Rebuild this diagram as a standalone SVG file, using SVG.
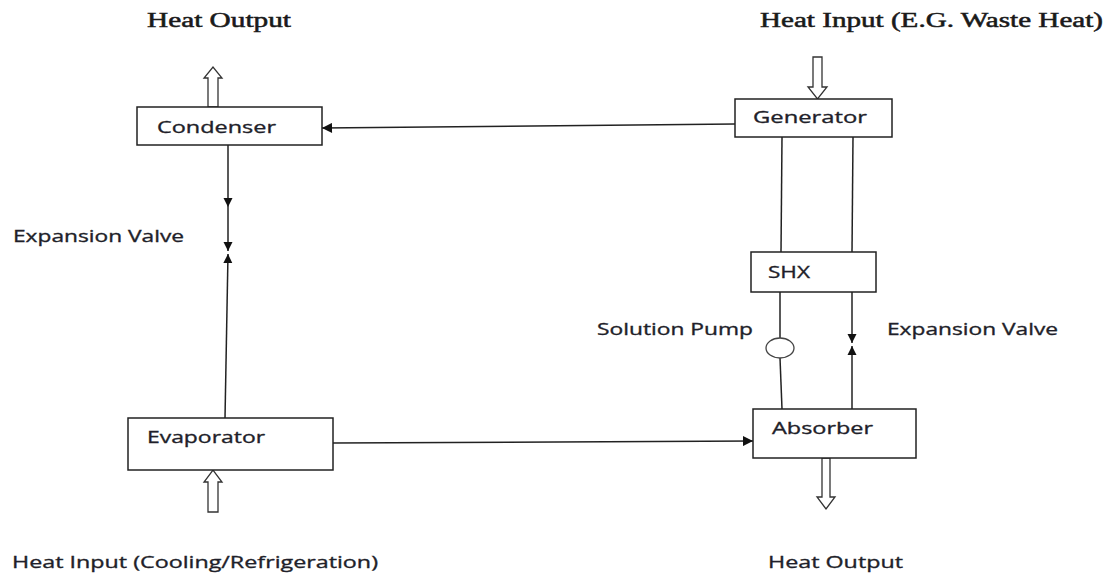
<svg xmlns="http://www.w3.org/2000/svg" width="1111" height="575" viewBox="0 0 1111 575">
<style>
.box{fill:#fff;stroke:#222;stroke-width:1.5}
.ln{fill:none;stroke:#222;stroke-width:1.5}
.hol{fill:#fff;stroke:#333;stroke-width:1.3;stroke-linejoin:miter}
.sans{font-family:"Open Sans","Noto Sans",sans-serif;font-size:17px;fill:#1f1f2a;stroke:#1f1f2a;stroke-width:0.35}
.serif{font-family:"Liberation Serif","DejaVu Serif",serif;font-size:20px;fill:#1a1a1a;stroke:#1a1a1a;stroke-width:0.5}
</style>
<defs>
<marker id="ah" viewBox="0 0 10 10" refX="10" refY="5" markerWidth="11" markerHeight="10" markerUnits="userSpaceOnUse" orient="auto">
<path d="M0,0 L10,5 L0,10 z" fill="#111"/>
</marker>
<marker id="ahv" viewBox="0 0 10 10" refX="10" refY="5" markerWidth="9" markerHeight="12" markerUnits="userSpaceOnUse" orient="auto">
<path d="M0,0 L10,5 L0,10 z" fill="#111"/>
</marker>
</defs>
<g id="labels">
<text class="serif" x="147" y="27" textLength="144" lengthAdjust="spacingAndGlyphs">Heat Output</text>
<text class="serif" x="760" y="27" textLength="343" lengthAdjust="spacingAndGlyphs">Heat Input (E.G. Waste Heat)</text>
<text class="sans" x="13" y="242" textLength="171" lengthAdjust="spacingAndGlyphs">Expansion Valve</text>
<text class="sans" x="597" y="335" textLength="156" lengthAdjust="spacingAndGlyphs">Solution Pump</text>
<text class="sans" x="887" y="335" textLength="171" lengthAdjust="spacingAndGlyphs">Expansion Valve</text>
<text class="sans" x="768" y="568" textLength="135" lengthAdjust="spacingAndGlyphs">Heat Output</text>
<text class="sans" x="12" y="568" textLength="366" lengthAdjust="spacingAndGlyphs">Heat Input (Cooling/Refrigeration)</text>
</g>
<g id="connectors">
<path class="ln" d="M735,124 L322,128" marker-end="url(#ah)"/>
<path class="ln" d="M228,145 L228,207 L228,251" marker-mid="url(#ahv)" marker-end="url(#ahv)"/>
<path class="ln" d="M225,418 L228,254" marker-end="url(#ahv)"/>
<path class="ln" d="M333,443 L753,441" marker-end="url(#ah)"/>
<path class="ln" d="M782,137 L781,252"/>
<path class="ln" d="M853,137 L852,252"/>
<path class="ln" d="M780,292 L780,338"/>
<path class="ln" d="M780,358 L782,409"/>
<path class="ln" d="M852,292 L852,343" marker-end="url(#ahv)"/>
<path class="ln" d="M852,409 L852,346" marker-end="url(#ahv)"/>
<polygon class="hol" points="208,107 208,78 204,78 213,67 222,78 218,78 218,107"/>
<polygon class="hol" points="813,57 822,57 822,87 827,87 817.5,99 808,87 813,87"/>
<polygon class="hol" points="208,512 208,482 204,482 213,470 222,482 218,482 218,512"/>
<polygon class="hol" points="822,458 830,458 830,497 835,497 826,509 817,497 822,497"/>
</g>
<g id="condenser">
<rect class="box" x="137" y="107" width="185" height="38"/>
<text class="sans" x="157" y="133" textLength="119" lengthAdjust="spacingAndGlyphs">Condenser</text>
</g>
<g id="generator">
<rect class="box" x="735" y="99" width="157" height="38"/>
<text class="sans" x="753" y="123" textLength="114" lengthAdjust="spacingAndGlyphs">Generator</text>
</g>
<g id="shx">
<rect class="box" x="751" y="252" width="125" height="40"/>
<text class="sans" x="768" y="278" textLength="42" lengthAdjust="spacingAndGlyphs">SHX</text>
</g>
<g id="pump">
<ellipse cx="780" cy="348" rx="14" ry="10" fill="#fff" stroke="#444" stroke-width="1.3"/>
</g>
<g id="evaporator">
<rect class="box" x="128" y="418" width="205" height="52"/>
<text class="sans" x="147" y="443" textLength="118" lengthAdjust="spacingAndGlyphs">Evaporator</text>
</g>
<g id="absorber">
<rect class="box" x="753" y="409" width="163" height="49"/>
<text class="sans" x="772" y="434" textLength="101" lengthAdjust="spacingAndGlyphs">Absorber</text>
</g>
</svg>
